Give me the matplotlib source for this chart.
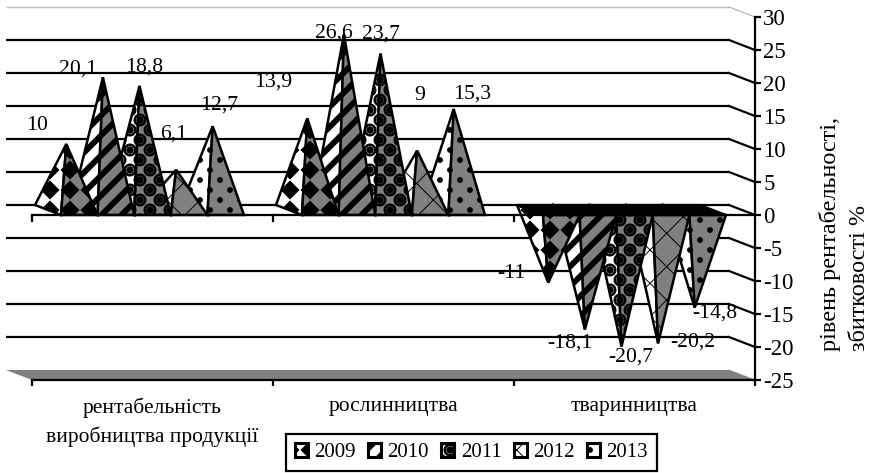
import warnings
import numpy as np
import matplotlib
matplotlib.use("Agg")
import matplotlib.pyplot as plt
import matplotlib.hatch as mhatch
from matplotlib.path import Path
from matplotlib.patches import Polygon, Patch

warnings.filterwarnings("ignore")
plt.rcParams['font.family'] = ['Liberation Serif', 'DejaVu Serif']
plt.rcParams['hatch.linewidth'] = 0.7

# ---- data ----
categories = ["рентабельність\nвиробництва продукції", "рослинництва", "тваринництва"]
years = ["2009", "2010", "2011", "2012", "2013"]
v2009 = [10, 13.9, -11]
v2010 = [20.1, 26.6, -18.1]
v2011 = [18.8, 23.7, -20.7]
v2012 = [6.1, 9, -20.2]
v2013 = [12.7, 15.3, -14.8]
yticks = [30, 25, 20, 15, 10, 5, 0, -5, -10, -15, -20, -25]
ylabel = "рівень рентабельності,\nзбитковості %"

# ---- label offsets from each apex, in pixels (x right, y down) ----
label_offsets = {
    "2009": [(-29, -19), (-34, -36), (-37, -9)],
    "2010": [(-25, -8), (-10, -1), (-15, 14)],
    "2011": [(5, -19), (0, -20), (9, 10)],
    "2012": [(-2, -36), (3, -55), (35, -1)],
    "2013": [(6, -21), (18, -15), (20, 5)],
}


# ---- fill patterns (tile = 1 inch) ----
def circle(cx, cy, r, reverse=False):
    c = Path.unit_circle()
    v = c.vertices * r + (cx, cy)
    return Path(v[::-1] if reverse else v, c.codes)


def poly(pts):
    pts = list(pts)
    return Path(pts + [pts[0]], [Path.MOVETO] + [Path.LINETO] * (len(pts) - 1) + [Path.CLOSEPOLY])


def lattice():
    for j in range(-1, 12):
        for i in range(-1, 7):
            yield (i + (0.5 if j % 2 else 0)) * 0.2, j * 0.1


def diamonds():
    r = 0.088
    parts = []
    for j in range(-1, 7):
        for i in range(-1, 7):
            x, y = i * 0.2 + 0.1, j * 0.2 + 0.1
            parts.append(poly([(x - r, y), (x, y - r), (x + r, y), (x, y + r)]))
    return Path.make_compound_path(*parts)


def stripes():
    t = 0.07
    return Path.make_compound_path(*[poly([(0, k / 5), (1, k / 5 + 1), (1, k / 5 + 1 + t), (0, k / 5 + t)])
                                     for k in range(-7, 7)])


def balls():
    parts = []
    for x, y in lattice():
        parts += [circle(x, y, 0.06), circle(x, y, 0.045, True), circle(x, y, 0.032)]
    return Path.make_compound_path(*parts)


def dots():
    return Path.make_compound_path(*[circle(x, y, 0.024) for x, y in lattice()])


class TileHatch(mhatch.HatchPatternBase):
    tiles = {'D': diamonds(), 'S': stripes(), 'B': balls(), 'P': dots()}

    def __init__(self, hatch, density):
        self.path = None
        self.num_vertices = 0
        for ch, p in self.tiles.items():
            if ch in hatch:
                self.path = p
                self.num_vertices = len(p.vertices)

    def set_vertices_and_codes(self, vertices, codes):
        vertices[:] = self.path.vertices
        codes[:] = self.path.codes


mhatch._hatch_types.append(TileHatch)
hatches = {"2009": "D", "2010": "S", "2011": "B", "2012": "x", "2013": "P"}
series = dict(zip(years, [v2009, v2010, v2011, v2012, v2013]))

# ---- figure ----
W, H = 870, 473
fig = plt.figure(figsize=(W / 100, H / 100), dpi=100)
ax = fig.add_axes([32 / W, 1 - 380 / H, (755 - 32) / W, (380 - 17) / H])
ax.set_xlim(0, 3)
ax.set_ylim(-25, 30)
LW = 1.6
for s in ['top', 'left']:
    ax.spines[s].set_visible(False)
ax.spines['right'].set_linewidth(LW)
ax.spines['bottom'].set_linewidth(LW)
ax.patch.set_visible(False)

px_x = 3 / (755 - 32)
px_y = 55 / (380 - 17)
dx = -26 * px_x       # depth of the 3-D box
dy = 10 * px_y

# back wall gridlines and side connectors
for v in yticks:
    top = v == yticks[0]
    bottom = v == yticks[-1]
    if not bottom:
        ax.plot([dx, 3 + dx], [v + dy, v + dy], color='#c0c0c0' if top else 'black',
                lw=1 if top else LW, clip_on=False, zorder=1, solid_capstyle='butt')
    thin = top or bottom
    ax.plot([3 + dx, 3], [v + dy, v], color='#b0b0b0' if thin else 'black', lw=0.8 if thin else LW,
            clip_on=False, zorder=1)

# floor
ax.add_patch(Polygon([(dx, -25 + dy), (3 + dx, -25 + dy), (3, -25), (0, -25)], closed=True,
                     facecolor='#808080', edgecolor='none', clip_on=False, zorder=1.5))

# pyramids
gap = 29 / 241
w = (1 - 2 * gap) / 5
z = 2.0
for g in range(len(categories)):
    for s, yr in reversed(list(enumerate(years))):
        val = series[yr][g]
        x0 = g + gap + s * w
        FL, FR = (x0, 0), (x0 + w, 0)
        BL, BR = (x0 + dx, dy), (x0 + w + dx, dy)
        apex = (x0 + w / 2 + dx / 2, dy / 2 + val)
        kw = dict(closed=True, edgecolor='black', lw=1.8, clip_on=False, joinstyle='miter',
                  hatch=hatches[yr])
        ax.add_patch(Polygon([BL, FL, apex], facecolor='white', zorder=z, **kw))
        ax.add_patch(Polygon([FL, FR, apex], facecolor='#808080', zorder=z, **kw))
        z += 0.01
        if val < 0:
            ax.add_patch(Polygon([BL, BR, FR, FL], closed=True, facecolor='black', edgecolor='black',
                                 lw=LW, zorder=4, clip_on=False))
        off = label_offsets[yr][g]
        ax.annotate(f"{val:g}".replace('.', ','), apex, xytext=(off[0], -off[1]),
                    textcoords='offset pixels', ha='center', va='center', fontsize=15.6,
                    zorder=6, annotation_clip=False)

# zero category axis
ax.plot([0, 3], [0, 0], color='black', lw=LW, zorder=3, clip_on=False)
for t in range(3):
    ax.plot([t, t], [0, -6 * px_y], color='black', lw=LW, zorder=3, clip_on=False)

# axes
ax.set_xticks(range(4))
ax.set_xticklabels([])
ax.set_xticks([0.5, 1.5, 2.5], minor=True)
ax.set_xticklabels(categories, minor=True, fontsize=15.5, linespacing=1.55, va='top')
ax.tick_params(axis='x', which='major', length=4.5, width=LW, direction='out')
ax.tick_params(axis='x', which='minor', length=0, pad=12.5)
ax.yaxis.tick_right()
ax.set_yticks(yticks)
ax.set_yticklabels([str(v) for v in yticks], fontsize=16.5)
ax.tick_params(axis='y', length=4, width=LW, pad=2)

fig.text(845 / W, 1 - 351 / H, ylabel, rotation=90, ha='center', va='bottom',
         ma='left', fontsize=17.5, linespacing=1.5)

# legend
handles = [Patch(facecolor='white', edgecolor='black', lw=2.2, hatch=hatches[y], label=y) for y in years]
leg = ax.legend(handles=handles, ncol=5, loc='lower left',
                bbox_to_anchor=(286 / W, 1 - 471 / H, (657 - 286) / W, (471 - 433) / H),
                bbox_transform=fig.transFigure, mode='expand', fontsize=15, frameon=True, fancybox=False,
                handlelength=0.62, handleheight=0.62, handletextpad=0.3, columnspacing=0.5,
                borderaxespad=0, borderpad=0.42, edgecolor='black', framealpha=1)
leg.get_frame().set_linewidth(LW)

fig.savefig("out.png", dpi=100)
